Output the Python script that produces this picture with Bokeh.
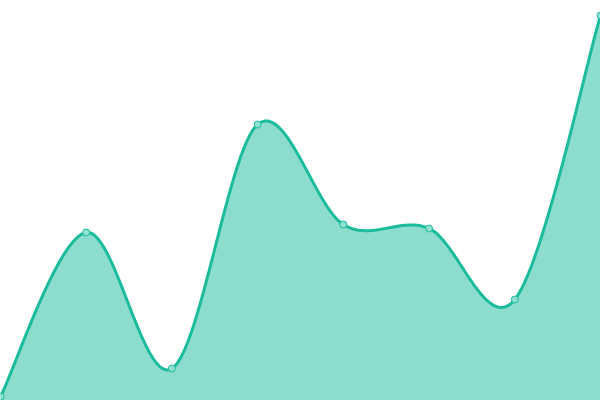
import numpy as np
from bokeh.plotting import figure
from bokeh.embed import file_html
from bokeh.resources import INLINE

# Data
categories = [0, 1, 2, 3, 4, 5, 6, 7]
values = [4, 168, 32, 276, 176, 172, 101, 385]


def catmull_rom(xs, ys, n=60):
    px = [xs[0]] + list(xs) + [xs[-1]]
    py = [ys[0]] + list(ys) + [ys[-1]]
    out_x, out_y = [], []
    segs = len(px) - 3
    for i in range(1, len(px) - 2):
        x0, x1, x2, x3 = px[i - 1:i + 3]
        y0, y1, y2, y3 = py[i - 1:i + 3]
        c1x, c1y = x1 + (x2 - x0) / 6.0, y1 + (y2 - y0) / 6.0
        c2x, c2y = x2 - (x3 - x1) / 6.0, y2 - (y3 - y1) / 6.0
        t = np.linspace(0, 1, n, endpoint=(i == segs))
        a = (1 - t) ** 3
        b = 3 * (1 - t) ** 2 * t
        c = 3 * (1 - t) * t ** 2
        d = t ** 3
        out_x.extend(a * x1 + b * c1x + c * c2x + d * x2)
        out_y.extend(a * y1 + b * c1y + c * c2y + d * y2)
    return np.array(out_x), np.array(out_y)


cx, cy = catmull_rom(categories, values)

p = figure(width=600, height=400, x_range=(0, 7), y_range=(0, 400),
           output_backend="svg", toolbar_location=None, min_border=0)
p.axis.visible = False
p.grid.visible = False
p.outline_line_color = None
p.background_fill_color = "white"
p.border_fill_color = "white"

p.varea(x=cx, y1=np.zeros_like(cy), y2=cy, fill_color="#1abc9c", fill_alpha=0.5)
p.line(cx, cy, line_color="#1abc9c", line_width=3)
p.scatter(categories, values, size=7, fill_color="#8fe0d0",
          line_color="#1abc9c", line_width=1)

open("out.html", "w").write(file_html(p, INLINE))
